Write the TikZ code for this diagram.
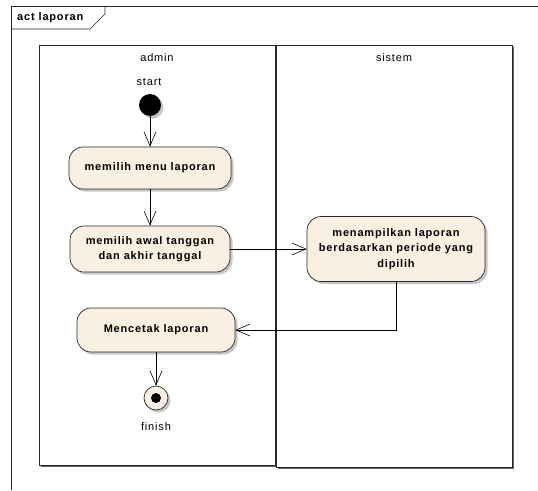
\documentclass[tikz,border=0pt]{standalone}
\usepackage{fontspec}
\setmainfont{Liberation Sans}[LetterSpace=7.5]
\usetikzlibrary{arrows.meta,shadows}
\definecolor{actfill}{RGB}{250,240,226}
\definecolor{edge}{RGB}{40,40,40}
\begin{document}
\begin{tikzpicture}[x=1pt,y=-1pt,
  softshadow/.style={drop shadow={shadow xshift=2.5pt,shadow yshift=-2.5pt,fill=black!40,opacity=0.55}},
  lane/.style={draw=edge,line width=0.8pt,fill=white},
  act/.style={draw=edge,line width=0.7pt,fill=actfill,rounded corners=14pt,
    font=\bfseries\fontsize{11}{15.5}\selectfont,align=center,inner sep=0pt,softshadow},
  flow/.style={draw=black,line width=0.6pt,
    -{Straight Barb[length=14pt,width=12pt,line width=0.6pt]}},
  lbl/.style={font=\fontsize{11}{13}\selectfont,inner sep=0pt}]
\useasboundingbox (0,0) rectangle (538,490);
\fill[white] (0,0) rectangle (538,490);

% diagram frame with its name tab
\draw[edge,line width=0.7pt] (538,6) -- (11,6) -- (11,490);
\draw[edge,line width=0.7pt] (11,29) -- (90,29) -- (105,14) -- (105,6);
\node[font=\bfseries\fontsize{11}{13}\selectfont,anchor=west,inner sep=0pt] (title) at (17,18) {act laporan};

% swimlanes
\fill[black!60] (40.5,46.5) rectangle (276.5,466.5);
\draw[lane] (39,45) rectangle (275,465);
\fill[black!60] (277.5,46.5) rectangle (513.5,468.5);
\draw[lane] (276,45) rectangle (512,467);
\node[lbl] (admin) at (157,58) {admin};
\node[lbl] (sistem) at (394,58) {sistem};

% start and end
\node[lbl] (startlbl) at (149,82) {start};
\node[circle,fill=black,minimum size=22pt,inner sep=0pt,softshadow] (start) at (150,105) {};
\node[circle,draw=edge,line width=0.7pt,fill=actfill,minimum size=24pt,inner sep=0pt,softshadow] (finish) at (156,398) {};
\node[circle,fill=black,minimum size=10pt,inner sep=0pt] (finishdot) at (finish) {};
\node[lbl] (finishlbl) at (156,427) {finish};

% activities
\node[act,minimum width=162pt,minimum height=42pt] (a1) at (150,168) {memilih menu laporan};
\node[act,minimum width=160pt,minimum height=46pt] (a2) at (150,249) {memilih awal tanggan\\dan akhir tanggal};
\node[act,minimum width=178pt,minimum height=65pt] (a3) at (396,249) {menampilkan laporan\\berdasarkan periode yang\\dipilih};
\node[act,minimum width=158pt,minimum height=44pt] (a4) at (156,330) {Mencetak laporan};

% control flows
\draw[flow] (start) -- (a1);
\draw[flow] (a1) -- (a2);
\draw[flow] (a2) -- (a3);
\draw[flow] (a3.south) |- (a4.east);
\draw[flow] (a4) -- (finish);
\end{tikzpicture}
\end{document}
